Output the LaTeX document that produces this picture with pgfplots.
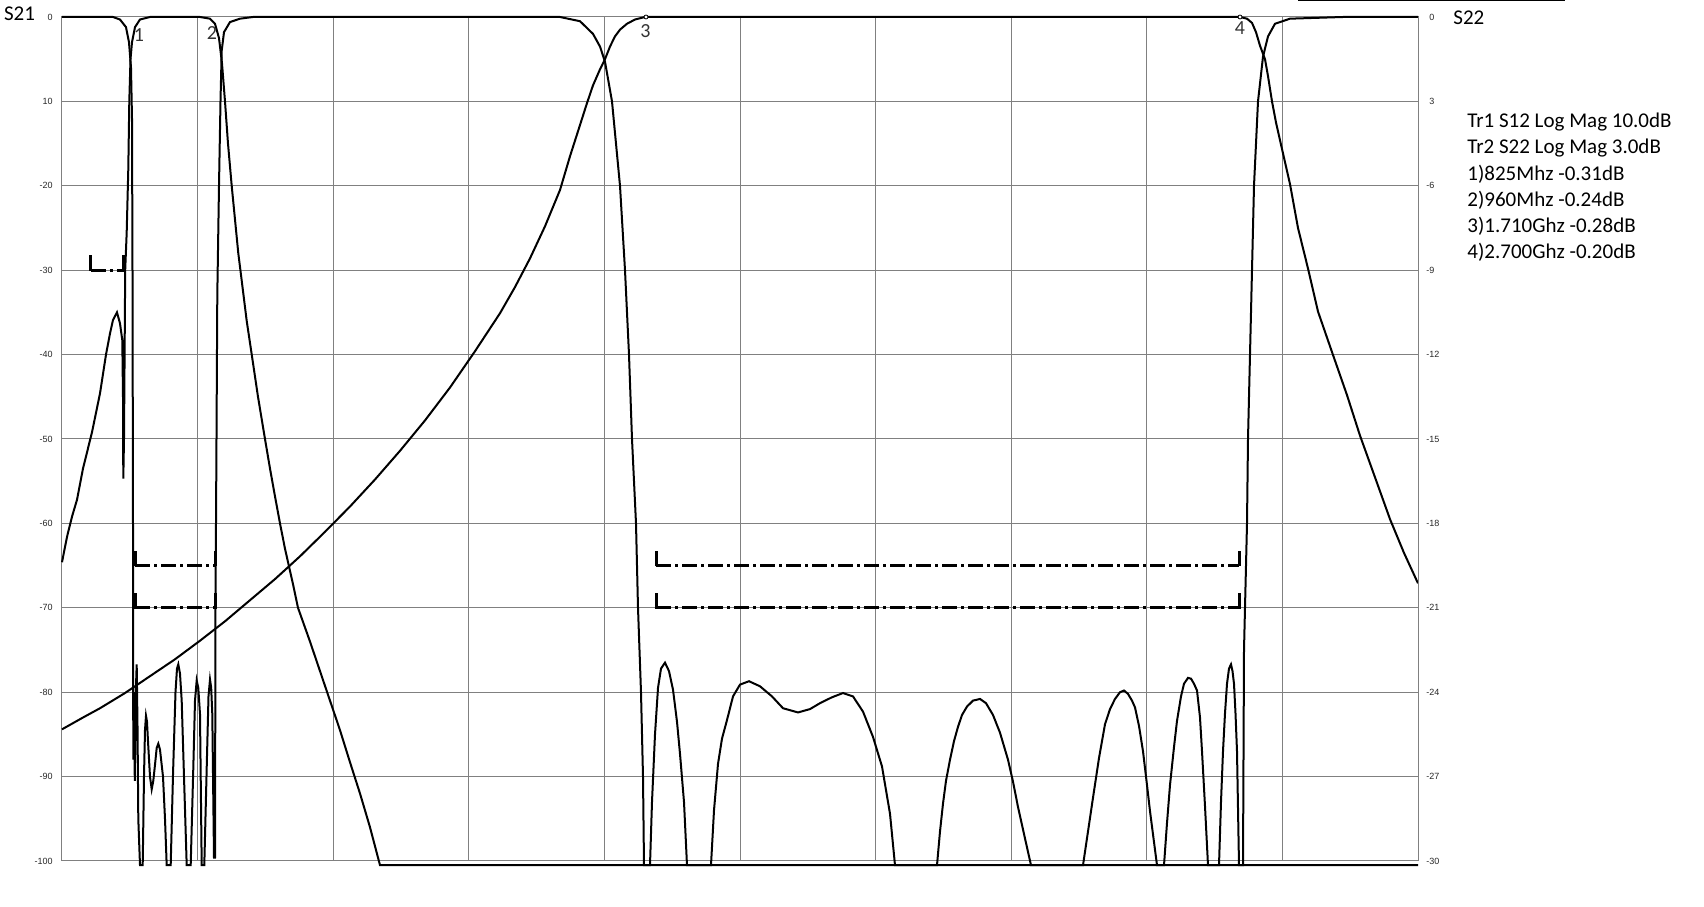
\documentclass[border=0pt]{standalone}
\usepackage{fontspec}
\usepackage{pgfplots}
\pgfplotsset{compat=1.18}
\setmainfont{Carlito}
\newfontfamily\tickfont{Liberation Sans}

\begin{document}
\begin{tikzpicture}[x=1pt,y=1pt]
\path[use as bounding box] (0,0) rectangle (852,453);
\begin{axis}[
  at={(31pt,22.5pt)}, anchor=south west,
  scale only axis, width=678pt, height=422pt,
  xmin=62, xmax=1418, ymin=-100, ymax=0,
  xtick={197.6,333.2,468.8,604.4,740,875.6,1011.2,1146.8,1282.4},
  xticklabels={},
  ytick={-100,-90,-80,-70,-60,-50,-40,-30,-20,-10,0},
  yticklabels={-100,-90,-80,-70,-60,-50,-40,-30,-20,10,0},
  grid=major,
  major grid style={draw=gray, line width=0.5pt},
  axis line style={draw=gray, line width=0.5pt},
  major tick length=0pt,
  yticklabel style={font=\tickfont\fontsize{4.5}{5}\selectfont, anchor=east, inner sep=0pt, xshift=-4.5pt, text=black!85},
  clip=false,
]
% low band trace
\addplot[black, line width=1pt] coordinates {
(62,-64.6) (67,-61.6) (72,-59.2) (77,-57.2) (83,-53.5) (92,-49.2) (100,-44.6) (106,-40) (110,-37.5) (113,-35.9) (117,-35) (120,-36.3) (122.3,-38.3) (123,-45) (123.3,-54.7) (124,-50) (124.6,-40) (125.2,-30) (126.7,-25.5) (128.3,-18) (129.3,-10) (130.5,-5) (132,-3) (135,-1.2) (140,-0.3) (150,0) (200,0) (210,-0.2) (215,-0.8) (219,-2.5) (222,-5.5) (225,-10) (228,-15) (231.7,-20) (235,-24) (238.3,-28) (240,-29.6) (246.7,-36) (253,-41) (258,-45) (265,-50) (270,-53.5) (275,-56.8) (280,-60) (285,-63) (293,-67.2) (298,-70) (310,-74) (320,-77.5) (330,-81) (340,-84.5) (350,-88.3) (360,-92) (370,-96) (380,-100.5) (1418,-100.5)
};
% high band trace
\addplot[black, line width=1pt] coordinates {
(62,-84.4) (83,-83) (100,-81.9) (125,-80.1) (150,-78.1) (175,-76.1) (200,-73.9) (225,-71.6) (250,-69.1) (275,-66.6) (300,-63.9) (325,-61) (350,-58) (375,-54.8) (400,-51.4) (425,-47.8) (450,-43.9) (475,-39.6) (500,-35.1) (515,-32) (530,-28.6) (545,-24.8) (560,-20.5) (570,-16.5) (580,-12.8) (587,-10.2) (593,-8.1) (600,-6.2) (605,-5) (610,-3.5) (615,-2.3) (620,-1.5) (627,-0.8) (635,-0.3) (645,0) (1240,0) (1247,-0.2) (1252,-0.7) (1256,-1.8) (1260,-3.4) (1265,-5) (1268,-7) (1272,-10) (1276,-12.5) (1280,-14.6) (1290,-19.8) (1298,-25) (1308,-29.8) (1318,-34.9) (1332,-39.7) (1347,-44.8) (1360,-49.6) (1377,-55.2) (1390,-59.5) (1404,-63.5) (1418,-67.1)
};
% return loss trace
\addplot[black, line width=1pt] coordinates {
(62,0) (113,0) (120,-0.3) (126,-1.2) (129,-3) (131,-6) (132,-12) (132.5,-30) (133,-60) (133.3,-88) (134,-80) (134.8,-90.5) (135.8,-80) (136.7,-76.7) (137.5,-84) (138.3,-95) (140,-100.5) (142.7,-100.5) (144,-90) (145,-84.5) (146,-82.8) (147,-83.5) (148,-85.8) (150,-90) (151.7,-91.5) (153.3,-90.5) (155,-88.6) (156.7,-86.6) (158.3,-86.1) (160,-86.8) (163,-90) (165,-95) (166.7,-100.5) (170.7,-100.5) (173,-89.8) (175.5,-80) (177,-77.2) (178.3,-76.7) (180,-77.8) (181.7,-81) (184,-90) (186.7,-100.5) (190.7,-100.5) (193.3,-89) (195,-81) (196.7,-78.6) (198.3,-79.5) (200,-82.6) (201.7,-100.5) (204.3,-100.5) (206.7,-89) (208.5,-80.5) (210,-78.5) (211.2,-79.5) (212.3,-82.6) (214,-99.6) (215,-99.6) (215.5,-70) (216.5,-50) (217.3,-33) (219,-20) (220.5,-10) (221.7,-4) (224,-1.8) (230,-0.6) (240,-0.2) (253,0) (560,0) (580,-0.5) (593,-2) (600,-3.5) (605,-5.3) (612,-10) (616,-15) (620,-20) (625,-30) (629,-40) (632,-50) (636,-60) (638,-70) (641,-80) (643,-90) (644,-100.5) (650,-100.5) (652,-93) (655,-85) (658,-79.5) (661,-77.2) (665,-76.5) (669,-77.5) (673,-79.7) (677,-83.5) (680,-87.3) (684,-93) (687,-100.5) (711,-100.5) (714,-94) (718,-88.5) (722,-85.5) (727,-83.3) (733,-80.5) (740,-79.1) (749,-78.7) (760,-79.3) (772,-80.5) (783,-81.9) (798,-82.4) (810,-82) (820,-81.3) (832,-80.6) (843,-80.1) (853,-80.5) (863,-82.3) (873,-85.3) (882,-88.8) (890,-94.4) (895,-100.5) (937,-100.5) (940,-96.5) (943,-93.2) (946,-90.5) (950,-88) (954,-85.8) (958,-84.1) (962,-82.7) (967,-81.7) (973,-81) (980,-80.8) (986,-81.3) (993,-82.7) (1000,-84.8) (1008,-88) (1013,-90.6) (1018,-93.6) (1024,-96.8) (1031,-100.5) (1083,-100.5) (1088,-96.5) (1093,-92.5) (1099,-87.8) (1105,-83.8) (1110,-82) (1115,-80.8) (1120,-80) (1124,-79.8) (1128,-80.2) (1132,-81) (1135,-81.8) (1139,-84) (1143,-87) (1147,-91) (1150,-94.1) (1157,-100.5) (1164,-100.5) (1167,-95.5) (1170,-91) (1174,-86.5) (1177,-83.4) (1181,-80.5) (1184,-79) (1188,-78.3) (1191,-78.4) (1194,-79) (1197,-79.8) (1200,-83) (1202,-87) (1205,-93.5) (1208,-100.5) (1219,-100.5) (1221,-93) (1223,-87) (1225,-82.5) (1227,-79) (1229,-77.2) (1231,-76.7) (1232.5,-77.5) (1234,-79) (1235.5,-82.5) (1237,-87) (1239,-100.5) (1243,-100.5) (1244,-75) (1247,-60) (1248,-50) (1250,-40) (1252,-30) (1254,-20) (1258,-10) (1263,-4.7) (1268,-2.3) (1275,-0.8) (1290,-0.2) (1343,0) (1418,0)
};
% limit masks
\pgfplotsset{maskline/.style={black, line width=1.5pt, dash pattern=on 7.5pt off 2pt on 1.5pt off 2pt}}
\addplot[maskline] coordinates {(91,-30) (124,-30)};
\addplot[maskline] coordinates {(135,-65) (215,-65)};
\addplot[maskline] coordinates {(135,-70) (215,-70)};
\addplot[maskline] coordinates {(656,-65) (1239,-65)};
\addplot[maskline] coordinates {(656,-70) (1239,-70)};
\pgfplotsset{masktick/.style={black, line width=1.5pt}}
\addplot[masktick] coordinates {(91,-30.1) (91,-28.2)};
\addplot[masktick] coordinates {(123.5,-30.1) (123.5,-28.2)};
\addplot[masktick] coordinates {(135,-65.1) (135,-63.3)};
\addplot[masktick] coordinates {(215,-65.1) (215,-63.3)};
\addplot[masktick] coordinates {(135,-70.1) (135,-68.3)};
\addplot[masktick] coordinates {(215,-70.1) (215,-68.3)};
\addplot[masktick] coordinates {(656,-65.1) (656,-63.3)};
\addplot[masktick] coordinates {(1239,-65.1) (1239,-63.3)};
\addplot[masktick] coordinates {(656,-70.1) (656,-68.3)};
\addplot[masktick] coordinates {(1239,-70.1) (1239,-68.3)};
% markers
\addplot[only marks, mark=*, mark size=1pt, mark options={fill=white, draw=black, line width=0.4pt}] coordinates {(646,0) (1240,0)};
\node[font=\fontsize{10}{12}\selectfont, text=black!80] at (axis cs:139,-2.1) {1};
\node[font=\fontsize{10}{12}\selectfont, text=black!80] at (axis cs:212,-1.9) {2};
\node[font=\fontsize{10}{12}\selectfont, text=black!80] at (axis cs:645.5,-1.7) {3};
\node[font=\fontsize{10}{12}\selectfont, text=black!80] at (axis cs:1240,-1.3) {4};
\end{axis}
\begin{axis}[
  at={(31pt,22.5pt)}, anchor=south west,
  scale only axis, width=678pt, height=422pt,
  xmin=62, xmax=1418, ymin=-30, ymax=0,
  axis x line=none, axis y line*=right,
  axis line style={draw=gray, line width=0.5pt},
  ytick={-30,-27,-24,-21,-18,-15,-12,-9,-6,-3,0},
  yticklabels={-30,-27,-24,-21,-18,-15,-12,-9,-6,\phantom{-}3,\phantom{-}0},
  major tick length=0pt,
  yticklabel style={font=\tickfont\fontsize{4.5}{5}\selectfont, anchor=west, inner sep=0pt, xshift=4pt, text=black!85},
]
\addplot[draw=none] coordinates {(62,0) (1418,-30)};
\end{axis}
\node[font=\fontsize{10.5}{12}\selectfont] at (9.75,446) {S21};
\node[font=\fontsize{10.5}{12}\selectfont, anchor=west, inner sep=0pt] at (726.5,444) {S22};
\begin{scope}[every node/.style={anchor=west, inner sep=0pt, font=\fontsize{10.5}{12}\selectfont}]
\node at (733.5,392) {Tr1 S12 Log Mag 10.0dB};
\node at (733.5,379) {Tr2 S22 Log Mag 3.0dB};
\node at (733.5,366) {1)825Mhz -0.31dB};
\node at (733.5,353) {2)960Mhz -0.24dB};
\node at (733.5,340) {3)1.710Ghz -0.28dB};
\node at (733.5,327) {4)2.700Ghz -0.20dB};
\end{scope}
\draw[black, line width=0.7pt] (649,452.7) -- (782.5,452.7);
\end{tikzpicture}
\end{document}
